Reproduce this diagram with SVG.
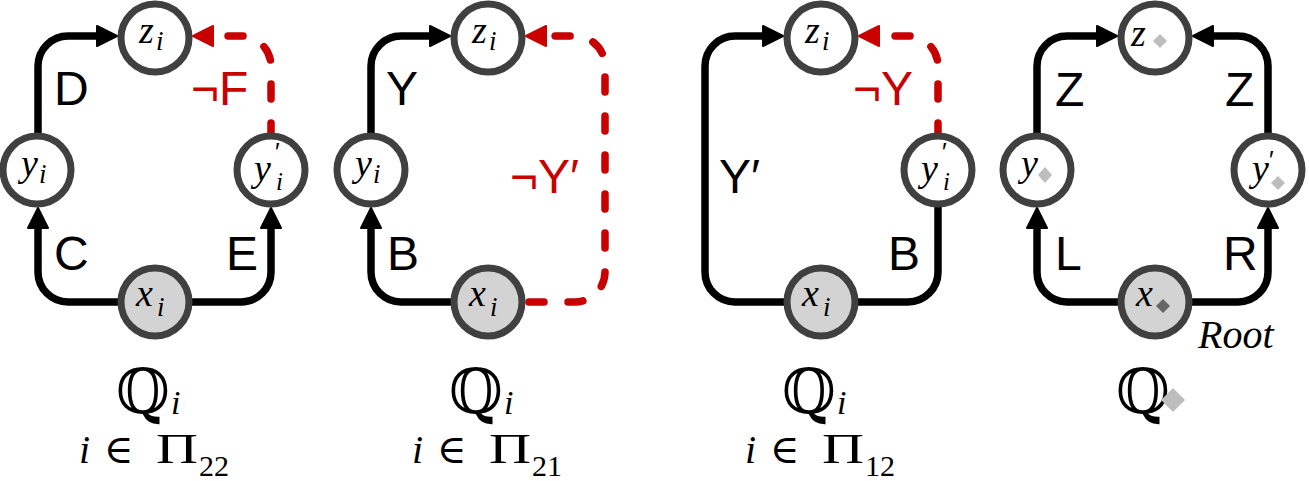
<svg xmlns="http://www.w3.org/2000/svg" width="1309" height="481" viewBox="0 0 1309 481">
<style>
.nd{stroke:#404040;stroke-width:7;fill:#fff}
.root{stroke:#404040;stroke-width:7;fill:#d3d3d3}
.e{fill:none;stroke:#000;stroke-width:7.5}
.r{fill:none;stroke:#c80000;stroke-width:7.5;stroke-dasharray:15 24;stroke-linecap:round}
.m{font-family:"Liberation Serif",serif;font-style:italic;font-size:38px;fill:#000}
.sb{font-size:27px}
.sb2{font-size:25px}
.pr{font-family:"Liberation Sans","DejaVu Sans",sans-serif;font-style:normal;font-size:25px}
.lb{font-family:"Liberation Sans","DejaVu Sans",sans-serif;font-size:48px;fill:#000}
.red{fill:#c80000}
.q{font-family:"DejaVu Serif","DejaVu Sans",serif;font-size:62px;fill:#000}
.mi{font-family:"Liberation Serif",serif;font-style:italic;font-size:40px}
.up{font-family:"DejaVu Serif",serif;font-size:40px}
.pi{font-family:"Liberation Serif",serif;font-size:43px}
.sub{font-family:"Liberation Serif",serif;font-size:30px}
.dl{fill:#bdbdbd}
.dd{fill:#666}
</style>
<defs>
<marker id="ab" viewBox="0 0 22 22" refX="13" refY="11" markerWidth="22" markerHeight="22" markerUnits="userSpaceOnUse" orient="auto">
<path d="M1,1 L21,11 L1,21 z" fill="#000" stroke="#000" stroke-width="2" stroke-linejoin="round"/>
</marker>
<marker id="ar" viewBox="0 0 22 22" refX="13" refY="11" markerWidth="22" markerHeight="22" markerUnits="userSpaceOnUse" orient="auto">
<path d="M1,1 L21,11 L1,21 z" fill="#c80000" stroke="#c80000" stroke-width="2" stroke-linejoin="round"/>
</marker>
</defs>
<g id="connectors">
<path class="e" d="M118,302 H68 A30,30 0 0 1 38,272 V216" marker-end="url(#ab)"/>
<path class="e" d="M38,133 V66 A30,30 0 0 1 68,36 H109" marker-end="url(#ab)"/>
<path class="e" d="M192,302 H241 A30,30 0 0 0 271,272 V216" marker-end="url(#ab)"/>
<path class="r" d="M271,138 V66 A30,30 0 0 0 241,36 H201" marker-end="url(#ar)"/>
<path class="e" d="M451,302 H401 A30,30 0 0 1 371,272 V216" marker-end="url(#ab)"/>
<path class="e" d="M371,133 V66 A30,30 0 0 1 401,36 H442" marker-end="url(#ab)"/>
<path class="r" d="M529,302 H575 A30,30 0 0 0 605,272 V66 A30,30 0 0 0 575,36 H534" marker-end="url(#ar)"/>
<path class="e" d="M784,302 H735 A30,30 0 0 1 705,272 V66 A30,30 0 0 1 735,36 H775" marker-end="url(#ab)"/>
<path class="e" d="M858,302 H908 A30,30 0 0 0 938,272 V207"/>
<path class="r" d="M938,138 V66 A30,30 0 0 0 908,36 H867" marker-end="url(#ar)"/>
<path class="e" d="M1118,302 H1067 A30,30 0 0 1 1037,272 V216" marker-end="url(#ab)"/>
<path class="e" d="M1192,302 H1238 A30,30 0 0 0 1268,272 V216" marker-end="url(#ab)"/>
<path class="e" d="M1037,133 V66 A30,30 0 0 1 1067,36 H1109" marker-end="url(#ab)"/>
<path class="e" d="M1268,133 V66 A30,30 0 0 0 1238,36 H1201" marker-end="url(#ab)"/>
</g>
<g id="edge-labels">
<text class="lb" x="54" y="105">D</text>
<text class="lb red" x="191" y="105">¬F</text>
<text class="lb" x="54" y="270">C</text>
<text class="lb" x="226" y="270">E</text>
<text class="lb" x="386" y="105">Y</text>
<text class="lb" x="387" y="270">B</text>
<text class="lb red" x="510" y="193">¬Y′</text>
<text class="lb" x="719" y="193">Y′</text>
<text class="lb red" x="853" y="105">¬Y</text>
<text class="lb" x="888" y="270">B</text>
<text class="lb" x="1055" y="106">Z</text>
<text class="lb" x="1225" y="106">Z</text>
<text class="lb" x="1055" y="270">L</text>
<text class="lb" x="1223" y="270">R</text>
</g>
<g id="z1"><circle class="nd" cx="155" cy="38" r="34"/><text class="m" x="139" y="43">z<tspan class="sb" x="156" y="50">i</tspan></text></g>
<g id="y1"><circle class="nd" cx="37" cy="170" r="34"/><text class="m" x="21" y="176">y<tspan class="sb" x="39" y="183">i</tspan></text></g>
<g id="yp1"><circle class="nd" cx="271" cy="170" r="34"/><text class="m" x="254" y="181">y</text><text class="m pr" x="275" y="161">′</text><text class="m sb2" x="276" y="190">i</text></g>
<g id="x1"><circle class="root" cx="155" cy="302" r="34"/><text class="m" x="136" y="306">x<tspan class="sb" x="157" y="316">i</tspan></text></g>
<g id="z2"><circle class="nd" cx="488" cy="38" r="34"/><text class="m" x="472" y="43">z<tspan class="sb" x="489" y="50">i</tspan></text></g>
<g id="y2"><circle class="nd" cx="371" cy="170" r="34"/><text class="m" x="355" y="176">y<tspan class="sb" x="373" y="183">i</tspan></text></g>
<g id="x2"><circle class="root" cx="488" cy="302" r="34"/><text class="m" x="469" y="306">x<tspan class="sb" x="490" y="316">i</tspan></text></g>
<g id="z3"><circle class="nd" cx="821" cy="38" r="34"/><text class="m" x="805" y="43">z<tspan class="sb" x="822" y="50">i</tspan></text></g>
<g id="yp3"><circle class="nd" cx="938" cy="170" r="34"/><text class="m" x="921" y="181">y</text><text class="m pr" x="942" y="161">′</text><text class="m sb2" x="943" y="190">i</text></g>
<g id="x3"><circle class="root" cx="821" cy="302" r="34"/><text class="m" x="802" y="306">x<tspan class="sb" x="823" y="316">i</tspan></text></g>
<g id="z4"><circle class="nd" cx="1155" cy="38" r="34"/><text class="m" x="1131" y="46">z</text><polygon class="dl" points="1160,34 1167,41 1160,48 1153,41"/></g>
<g id="y4"><circle class="nd" cx="1037" cy="170" r="34"/><text class="m" x="1021" y="176">y</text><polygon class="dl" points="1045,167 1052,175 1045,183 1038,175"/></g>
<g id="yp4"><circle class="nd" cx="1268" cy="170" r="34"/><text class="m" x="1252" y="181">y<tspan class="pr" x="1269" y="169">′</tspan></text><polygon class="dl" points="1278,176 1285,183 1278,190 1271,183"/></g>
<g id="x4"><circle class="root" cx="1155" cy="302" r="34"/><text class="m" x="1136" y="306">x</text><polygon class="dd" points="1163,299 1170,306 1163,313 1156,306"/></g>
<text class="m" x="1198" y="348" style="font-size:40px">Root</text>
<g id="cap1">
<text class="q" x="116" y="413">ℚ</text><text class="mi" x="171" y="414" style="font-size:34px">i</text>
<text class="mi" x="79" y="463">i</text><text class="up" x="104" y="463">∈</text><text class="pi" x="156" y="463" textLength="42" lengthAdjust="spacingAndGlyphs">Π</text><text class="sub" x="199" y="476">22</text>
</g>
<g id="cap2">
<text class="q" x="449" y="413">ℚ</text><text class="mi" x="504" y="414" style="font-size:34px">i</text>
<text class="mi" x="412" y="463">i</text><text class="up" x="437" y="463">∈</text><text class="pi" x="489" y="463" textLength="42" lengthAdjust="spacingAndGlyphs">Π</text><text class="sub" x="532" y="476">21</text>
</g>
<g id="cap3">
<text class="q" x="782" y="413">ℚ</text><text class="mi" x="837" y="414" style="font-size:34px">i</text>
<text class="mi" x="745" y="463">i</text><text class="up" x="770" y="463">∈</text><text class="pi" x="822" y="463" textLength="42" lengthAdjust="spacingAndGlyphs">Π</text><text class="sub" x="865" y="476">12</text>
</g>
<g id="cap4">
<text class="q" x="1116" y="413">ℚ</text><polygon class="dl" points="1173,388 1185,400 1173,412 1161,400"/>
</g>
</svg>
